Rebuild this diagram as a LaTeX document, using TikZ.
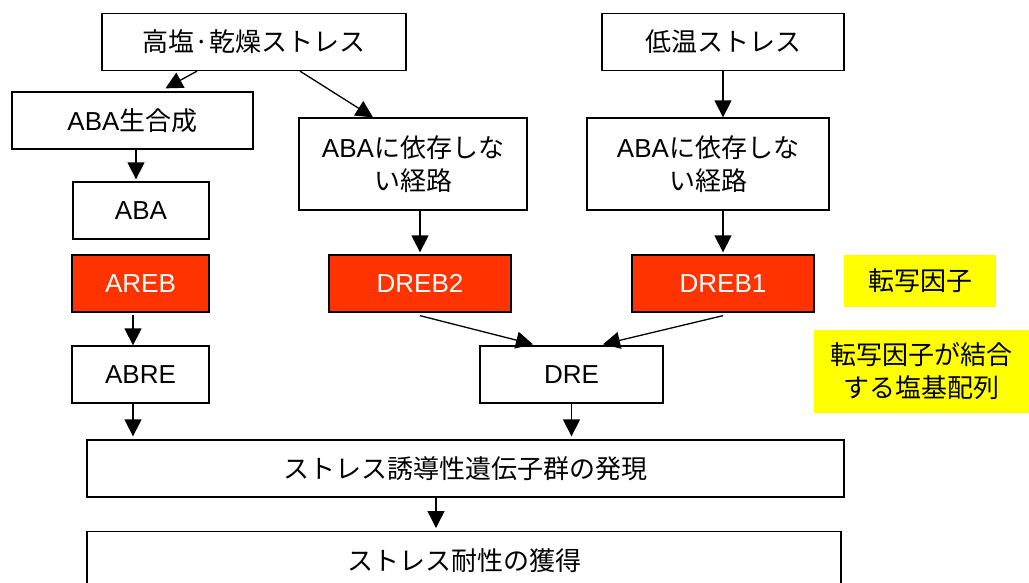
\documentclass[tikz,border=0pt]{standalone}
\usepackage{fontspec}
\setmainfont{Liberation Sans}
\newfontfamily\jp{Noto Sans CJK JP}
\usetikzlibrary{arrows.meta}
\definecolor{tfred}{HTML}{FF3300}
\definecolor{hiyel}{HTML}{FFFF00}
\begin{document}
\begin{tikzpicture}[x=1pt,y=-1pt,
  box/.style={draw=black,line width=1.3pt,fill=white,rectangle,inner sep=0pt,align=center,
    font=\fontsize{26}{33}\selectfont},
  redbox/.style={box,fill=tfred,text=white},
  note/.style={rectangle,fill=hiyel,inner sep=0pt,align=center,font=\fontsize{26}{33}\selectfont},
  arr/.style={line width=1.3pt,-{Triangle[length=17pt,width=17pt]}}]
\clip (0,0) rectangle (1029,582);
\fill[white] (0,0) rectangle (1029,582);
\node[box,minimum width=304pt,minimum height=57pt] (hs) at (254,42) {\jp 高塩·乾燥ストレス};
\node[box,minimum width=242pt,minimum height=57pt] (lt) at (723,42) {\jp 低温ストレス};
\node[box,minimum width=241pt,minimum height=57pt] (abs) at (132.5,120.5) {ABA{\jp 生合成}};
\node[box,minimum width=136pt,minimum height=57pt] (aba) at (141,210.5) {ABA};
\node[box,minimum width=228pt,minimum height=92pt] (p1) at (413,164) {ABA{\jp に依存しな}\\{\jp い経路}};
\node[box,minimum width=242pt,minimum height=92pt] (p2) at (708,164) {ABA{\jp に依存しな}\\{\jp い経路}};
\node[redbox,minimum width=137pt,minimum height=57pt] (areb) at (140.5,283.5) {AREB};
\node[redbox,minimum width=182pt,minimum height=57pt] (dreb2) at (420,283.5) {DREB2};
\node[redbox,minimum width=182pt,minimum height=57pt] (dreb1) at (723,283.5) {DREB1};
\node[note,minimum width=152pt,minimum height=52pt] (tf) at (920,281) {\jp 転写因子};
\node[box,minimum width=137pt,minimum height=57pt] (abre) at (140.5,374.5) {ABRE};
\node[box,minimum width=183pt,minimum height=57pt] (dre) at (571.5,374.5) {DRE};
\node[note,minimum width=215pt,minimum height=83pt] (tfb) at (921.5,371.5) {{\jp 転写因子が結合}\\{\jp する塩基配列}};
\node[box,minimum width=757pt,minimum height=57pt] (gene) at (465.5,468.5) {\jp ストレス誘導性遺伝子群の発現};
\node[box,minimum width=754pt,minimum height=57pt,anchor=north] (tol) at (464,531) {\jp ストレス耐性の獲得};
% connectors
\draw[arr] ([xshift=-57pt]hs.south) -- ([xshift=33pt,yshift=3pt]abs.north);
\draw[arr] ([xshift=46pt]hs.south) -- ([xshift=-40pt]p1.north);
\draw[arr] ([xshift=3.5pt]abs.south) -- ([xshift=3.5pt,yshift=2pt]abs.south |- aba.north);
\draw[arr] (p1.south -| dreb2.north) -- ([yshift=2pt]dreb2.north);
\draw[arr] (lt.south) -- (lt.south |- p2.north);
\draw[arr] (p2.south -| dreb1.north) -- ([yshift=2pt]dreb1.north);
\draw[arr] ([xshift=-7.5pt,yshift=-2pt]areb.south) -- ([xshift=-7.5pt]abre.north);
\draw[arr] ([xshift=-7.5pt]abre.south) -- ([xshift=-7.5pt,yshift=3pt]abre.south |- gene.north);
\draw[arr] ([yshift=-3pt]dreb2.south) -- ([xshift=-38.5pt,yshift=1pt]dre.north);
\draw[arr] ([yshift=-3pt]dreb1.south) -- ([xshift=31.5pt,yshift=1pt]dre.north);
\draw[arr] (dre.south) -- ([yshift=3pt]dre.south |- gene.north);
\draw[arr] ([xshift=-29.5pt]gene.south) -- ([xshift=-29.5pt,yshift=3pt]gene.south |- tol.north);
\end{tikzpicture}
\end{document}
